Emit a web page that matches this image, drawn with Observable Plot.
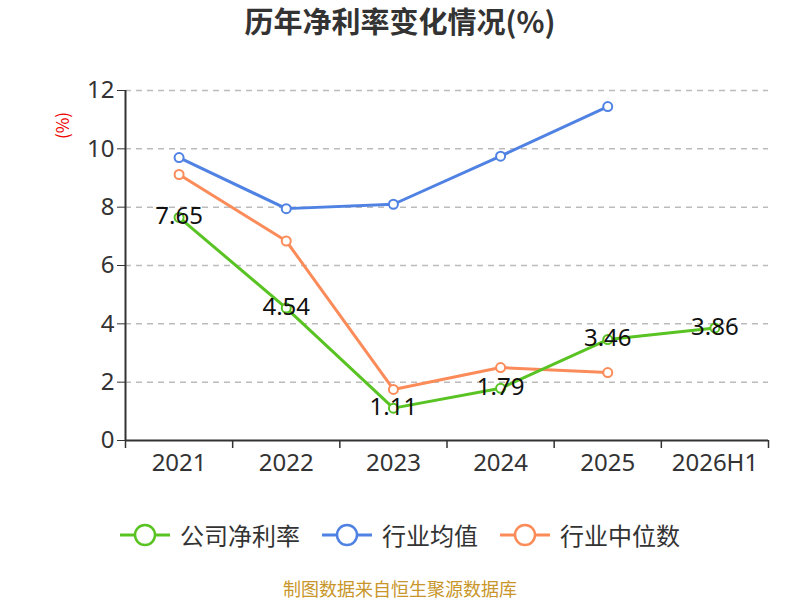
<!DOCTYPE html>
<html><head><meta charset="utf-8">
<script src="https://cdn.jsdelivr.net/npm/d3@7"></script>
<script src="https://cdn.jsdelivr.net/npm/@observablehq/plot@0.6"></script>
<style>
body{margin:0;background:#fff;font-family:"Noto Sans CJK SC","Noto Sans",sans-serif;}
#wrap{position:relative;width:800px;height:600px;overflow:hidden;}
#title{position:absolute;top:-1px;left:0;width:800px;text-align:center;font-size:29px;font-weight:bold;color:#333;}
#unit{position:absolute;left:48px;top:113px;transform:rotate(-90deg);transform-origin:center;color:#e00;font-size:17px;}
#legend{position:absolute;top:517px;left:0;width:800px;display:flex;justify-content:center;gap:22px;font-size:24px;color:#333;}
.item{display:flex;align-items:center;gap:10px;}
#caption{position:absolute;top:575px;left:0;width:800px;text-align:center;font-size:18px;color:#c8962a;}
#chart{position:absolute;top:0;left:0;}
</style></head>
<body><div id="wrap">
<div id="chart"></div>
<div id="title">历年净利率变化情况(%)</div>
<div id="unit">(%)</div>
<div id="legend"></div>
<div id="caption">制图数据来自恒生聚源数据库</div>
</div>
<script>
const categories = ["2021","2022","2023","2024","2025","2026H1"];
const company = [7.65, 4.54, 1.11, 1.79, 3.46, 3.86];
const industryAvg = [9.7, 7.95, 8.1, 9.75, 11.45, null];
const industryMedian = [9.12, 6.84, 1.75, 2.5, 2.33, null];
const yTicks = [0,2,4,6,8,10,12];
const seriesNames = ["公司净利率","行业均值","行业中位数"];
const colors = ["#58c322","#4f82e3","#fb8c5a"];

const rows = (vals, s) => vals.map((v,i)=>({i, v, s})).filter(d=>d.v!=null);
const compRows = rows(company, 0);
const avgRows = rows(industryAvg, 1);
const medRows = rows(industryMedian, 2);
const idx = categories.map((c,i)=>i);
const bounds = categories.map((c,i)=>i-0.5).concat([categories.length-0.5]);

const plot = Plot.plot({
  width: 800, height: 600,
  marginLeft: 125, marginRight: 32, marginTop: 90, marginBottom: 160,
  style: {fontFamily: '"Noto Sans","Noto Sans CJK SC",sans-serif', background: "transparent"},
  x: {type: "linear", domain: [-0.5, categories.length-0.5]},
  y: {domain: [0, 12]},
  marks: [
    Plot.gridY(yTicks.filter(t=>t>0), {stroke: "#bbb", strokeOpacity: 1, strokeDasharray: "6,5", strokeWidth: 1.5}),
    Plot.axisY({ticks: yTicks, tickSize: 8, tickPadding: 3, fontSize: 24, color: "#333", label: null, tickFormat: d=>d}),
    Plot.axisX({ticks: bounds, tickSize: 8, tickFormat: ()=>"", label: null, stroke:"#333", strokeWidth: 1.5}),
    Plot.axisX({ticks: idx, tickSize: 0, tickPadding: 13, fontSize: 24, color: "#333", label: null, tickFormat: i=>categories[i]}),
    Plot.ruleX([-0.5], {stroke: "#333", strokeWidth: 2}),
    Plot.ruleY([0], {stroke: "#333", strokeWidth: 2}),
    Plot.line(avgRows, {x: "i", y: "v", stroke: colors[1], strokeWidth: 3}),
    Plot.line(medRows, {x: "i", y: "v", stroke: colors[2], strokeWidth: 3}),
    Plot.line(compRows, {x: "i", y: "v", stroke: colors[0], strokeWidth: 3}),
    Plot.dot(avgRows, {x: "i", y: "v", r: 4.5, fill: "#fff", stroke: colors[1], strokeWidth: 2}),
    Plot.dot(medRows, {x: "i", y: "v", r: 4.5, fill: "#fff", stroke: colors[2], strokeWidth: 2}),
    Plot.dot(compRows, {x: "i", y: "v", r: 4.5, fill: "#fff", stroke: colors[0], strokeWidth: 2}),
    Plot.text(compRows, {x: "i", y: "v", text: d=>d.v.toFixed(2), fontSize: 24, fill: "#111", dy: -1})
  ]
});
document.getElementById("chart").appendChild(plot);

const leg = document.getElementById("legend");
seriesNames.forEach((n,k)=>{
  const it = document.createElement("div"); it.className="item";
  it.innerHTML = `<svg width="50" height="26"><line x1="0" y1="13" x2="50" y2="13" stroke="${colors[k]}" stroke-width="3"/><circle cx="25" cy="13" r="10" fill="#fff" stroke="${colors[k]}" stroke-width="2.5"/></svg><span>${n}</span>`;
  leg.appendChild(it);
});
</script>
</body></html>
